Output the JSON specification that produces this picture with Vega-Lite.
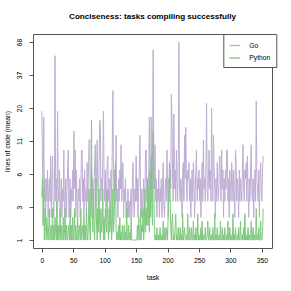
{
  "$schema": "https://vega.github.io/schema/vega-lite/v6.json",
  "width": 239,
  "height": 214,
  "autosize": {"type": "none"},
  "padding": {"left": 33, "top": 34, "right": 19, "bottom": 43},
  "background": "white",
  "title": {"text": "Conciseness: tasks compiling successfully", "fontSize": 8.1, "fontWeight": "bold", "font": "Liberation Sans", "anchor": "middle", "baseline": "bottom", "offset": 4.3, "color": "#000"},
  "data": {"values": [
{"t":0,"go":19,"py":3.3},{"t":1,"go":7,"py":5},{"t":2,"go":4,"py":1.6},{"t":3,"go":17,"py":4},{"t":4,"go":3,"py":1},{"t":5,"go":5,"py":2.5},{"t":6,"go":2,"py":1.6},{"t":7,"go":5,"py":1},{"t":8,"go":3,"py":2},{"t":9,"go":6,"py":1.3},
{"t":10,"go":2,"py":1},{"t":11,"go":4,"py":1.6},{"t":12,"go":5,"py":2.5},{"t":13,"go":3,"py":1},{"t":14,"go":8,"py":1.3},{"t":15,"go":2,"py":1.6},{"t":16,"go":5,"py":1},{"t":17,"go":8,"py":2.5},{"t":18,"go":3,"py":1},{"t":19,"go":2,"py":1.6},
{"t":20,"go":4,"py":1},{"t":21,"go":53,"py":2},{"t":22,"go":3,"py":1.3},{"t":23,"go":5,"py":1},{"t":24,"go":2,"py":3},{"t":25,"go":19,"py":1},{"t":26,"go":4,"py":1.6},{"t":27,"go":3,"py":1},{"t":28,"go":6,"py":1.3},{"t":29,"go":2,"py":2.5},
{"t":30,"go":3,"py":1},{"t":31,"go":5,"py":1.6},{"t":32,"go":2,"py":1},{"t":33,"go":4,"py":1},{"t":34,"go":3,"py":2},{"t":35,"go":9,"py":1},{"t":36,"go":2,"py":1.3},{"t":37,"go":3,"py":2.5},{"t":38,"go":5,"py":1},{"t":39,"go":2,"py":1.6},
{"t":40,"go":4,"py":1},{"t":41,"go":6,"py":1},{"t":42,"go":9,"py":1.6},{"t":43,"go":2,"py":1.3},{"t":44,"go":3,"py":1},{"t":45,"go":5,"py":2.5},{"t":46,"go":2,"py":1},{"t":47,"go":4,"py":1.6},{"t":48,"go":3,"py":1},{"t":49,"go":6,"py":2},
{"t":50,"go":3,"py":1},{"t":51,"go":13,"py":1.3},{"t":52,"go":4,"py":2.5},{"t":53,"go":9,"py":1},{"t":54,"go":2,"py":1.6},{"t":55,"go":6,"py":1},{"t":56,"go":3,"py":1},{"t":57,"go":2,"py":2},{"t":58,"go":4,"py":1},{"t":59,"go":3,"py":1.3},
{"t":60,"go":5,"py":1.6},{"t":61,"go":2,"py":1},{"t":62,"go":4,"py":2.5},{"t":63,"go":9,"py":1},{"t":64,"go":9,"py":1.3},{"t":65,"go":3,"py":1.6},{"t":66,"go":5,"py":1},{"t":67,"go":2,"py":2},{"t":68,"go":6,"py":1},{"t":69,"go":3,"py":1.6},
{"t":70,"go":4,"py":1},{"t":71,"go":2,"py":2.5},{"t":72,"go":7,"py":1.3},{"t":73,"go":3,"py":1},{"t":74,"go":5,"py":1.6},{"t":75,"go":11,"py":4},{"t":76,"go":11,"py":1.6},{"t":77,"go":4,"py":1},{"t":78,"go":2,"py":2.5},{"t":79,"go":6,"py":16},
{"t":80,"go":3,"py":2.5},{"t":81,"go":5,"py":1.3},{"t":82,"go":2,"py":4},{"t":83,"go":4,"py":1.6},{"t":84,"go":7,"py":1},{"t":85,"go":10,"py":2.5},{"t":86,"go":3,"py":5},{"t":87,"go":5,"py":1.6},{"t":88,"go":11,"py":1},{"t":89,"go":4,"py":2.5},
{"t":90,"go":2,"py":1.3},{"t":91,"go":6,"py":4},{"t":92,"go":16,"py":1.6},{"t":93,"go":15,"py":1},{"t":94,"go":3,"py":2.5},{"t":95,"go":5,"py":1.3},{"t":96,"go":4,"py":1.6},{"t":97,"go":8,"py":4},{"t":98,"go":19,"py":1},{"t":99,"go":5,"py":2},
{"t":100,"go":3,"py":1},{"t":101,"go":6,"py":2.5},{"t":102,"go":2,"py":1.6},{"t":103,"go":4,"py":1.3},{"t":104,"go":7,"py":4},{"t":105,"go":8,"py":1.6},{"t":106,"go":3,"py":1},{"t":107,"go":5,"py":2.5},{"t":108,"go":2,"py":1.3},{"t":109,"go":4,"py":1.6},
{"t":110,"go":6,"py":3},{"t":111,"go":3,"py":1},{"t":112,"go":9,"py":1.6},{"t":113,"go":28,"py":4},{"t":114,"go":5,"py":1.3},{"t":115,"go":3,"py":2},{"t":116,"go":6,"py":4},{"t":117,"go":4,"py":7},{"t":118,"go":12,"py":1.6},{"t":119,"go":3,"py":1},
{"t":120,"go":4,"py":1.3},{"t":121,"go":2,"py":1},{"t":122,"go":5,"py":1.6},{"t":123,"go":3,"py":1},{"t":124,"go":6,"py":2},{"t":125,"go":4,"py":1},{"t":126,"go":10,"py":1.3},{"t":127,"go":3,"py":1},{"t":128,"go":5,"py":1.6},{"t":129,"go":7,"py":1},
{"t":130,"go":2,"py":1},{"t":131,"go":4,"py":1.6},{"t":132,"go":3,"py":1},{"t":133,"go":5,"py":1.3},{"t":134,"go":2,"py":1},{"t":135,"go":3,"py":2.5},{"t":136,"go":2,"py":1},{"t":137,"go":4,"py":1},{"t":138,"go":2,"py":1.6},{"t":139,"go":3,"py":1},
{"t":140,"go":2,"py":1.3},{"t":141,"go":3,"py":1},{"t":142,"go":4,"py":2},{"t":143,"go":2,"py":1},{"t":144,"go":5,"py":1},{"t":145,"go":7,"py":1},{"t":146,"go":3,"py":1},{"t":147,"go":2,"py":1},{"t":148,"go":4,"py":1},{"t":149,"go":3,"py":1},
{"t":150,"go":8,"py":1},{"t":151,"go":3,"py":1},{"t":152,"go":5,"py":1.6},{"t":153,"go":2,"py":1},{"t":154,"go":4,"py":2},{"t":155,"go":6,"py":1.3},{"t":156,"go":12,"py":1},{"t":157,"go":3,"py":2.5},{"t":158,"go":2,"py":1},{"t":159,"go":4,"py":1.6},
{"t":160,"go":2,"py":1.3},{"t":161,"go":3,"py":2.5},{"t":162,"go":5,"py":1},{"t":163,"go":2,"py":1.6},{"t":164,"go":4,"py":4},{"t":165,"go":9,"py":1.3},{"t":166,"go":9,"py":2.5},{"t":167,"go":3,"py":1.6},{"t":168,"go":5,"py":5},{"t":169,"go":2,"py":1.6},
{"t":170,"go":6,"py":4},{"t":171,"go":17,"py":1.3},{"t":172,"go":4,"py":6},{"t":173,"go":5,"py":2},{"t":174,"go":17,"py":8},{"t":175,"go":3,"py":2.5},{"t":176,"go":6,"py":1.6},{"t":177,"go":59,"py":13},{"t":178,"go":8,"py":5},{"t":179,"go":4,"py":1.6},
{"t":180,"go":10,"py":1},{"t":181,"go":3,"py":1.2},{"t":182,"go":5,"py":1},{"t":183,"go":2,"py":1.5},{"t":184,"go":4,"py":1},{"t":185,"go":3,"py":1},{"t":186,"go":6,"py":1.2},{"t":187,"go":2,"py":1},{"t":188,"go":4,"py":1.5},{"t":189,"go":3,"py":1},
{"t":190,"go":5,"py":1},{"t":191,"go":2,"py":1.2},{"t":192,"go":4,"py":1},{"t":193,"go":7,"py":1.8},{"t":194,"go":3,"py":1},{"t":195,"go":2,"py":1},{"t":196,"go":4,"py":1.5},{"t":197,"go":5,"py":1},{"t":198,"go":3,"py":1.2},{"t":199,"go":9,"py":1.5},
{"t":200,"go":4,"py":1},{"t":201,"go":2,"py":2.2},{"t":202,"go":5,"py":3.5},{"t":203,"go":3,"py":7},{"t":204,"go":6,"py":3.5},{"t":205,"go":4,"py":1.5},{"t":206,"go":26,"py":1},{"t":207,"go":17,"py":1.8},{"t":208,"go":5,"py":2.2},{"t":209,"go":3,"py":1},
{"t":210,"go":18,"py":1.2},{"t":211,"go":4,"py":1},{"t":212,"go":6,"py":1.5},{"t":213,"go":3,"py":2.2},{"t":214,"go":9,"py":1},{"t":215,"go":5,"py":1.2},{"t":216,"go":3,"py":1},{"t":217,"go":8,"py":1.5},{"t":218,"go":68,"py":1},{"t":219,"go":4,"py":1},
{"t":220,"go":3,"py":1.5},{"t":221,"go":5,"py":1},{"t":222,"go":4,"py":1.2},{"t":223,"go":2,"py":1},{"t":224,"go":6,"py":2.2},{"t":225,"go":7,"py":1},{"t":226,"go":3,"py":1.2},{"t":227,"go":12,"py":1.5},{"t":228,"go":5,"py":1},{"t":229,"go":14,"py":1},
{"t":230,"go":4,"py":1.2},{"t":231,"go":3,"py":1},{"t":232,"go":6,"py":2.2},{"t":233,"go":5,"py":1.2},{"t":234,"go":7,"py":1},{"t":235,"go":3,"py":1.5},{"t":236,"go":5,"py":1},{"t":237,"go":2,"py":1},{"t":238,"go":4,"py":1.5},{"t":239,"go":6,"py":1},
{"t":240,"go":3,"py":1},{"t":241,"go":7,"py":1.8},{"t":242,"go":5,"py":1},{"t":243,"go":2,"py":1.2},{"t":244,"go":4,"py":1},{"t":245,"go":6,"py":1.5},{"t":246,"go":9,"py":1},{"t":247,"go":3,"py":1},{"t":248,"go":5,"py":2.2},{"t":249,"go":4,"py":1},
{"t":250,"go":6,"py":1.2},{"t":251,"go":3,"py":1},{"t":252,"go":5,"py":1},{"t":253,"go":2,"py":1.5},{"t":254,"go":4,"py":1},{"t":255,"go":7,"py":1.8},{"t":256,"go":3,"py":1},{"t":257,"go":11,"py":1.2},{"t":258,"go":4,"py":1},{"t":259,"go":5,"py":1},
{"t":260,"go":3,"py":1.5},{"t":261,"go":6,"py":1},{"t":262,"go":22,"py":1},{"t":263,"go":4,"py":1.2},{"t":264,"go":3,"py":1.8},{"t":265,"go":5,"py":1},{"t":266,"go":9,"py":1},{"t":267,"go":4,"py":1.5},{"t":268,"go":6,"py":1},{"t":269,"go":3,"py":1},
{"t":270,"go":20,"py":1.2},{"t":271,"go":5,"py":1},{"t":272,"go":3,"py":1.5},{"t":273,"go":12,"py":1},{"t":274,"go":6,"py":1},{"t":275,"go":4,"py":2.2},{"t":276,"go":2,"py":1},{"t":277,"go":5,"py":1.2},{"t":278,"go":3,"py":1},{"t":279,"go":7,"py":1.5},
{"t":280,"go":4,"py":1},{"t":281,"go":3,"py":1},{"t":282,"go":6,"py":1.2},{"t":283,"go":8,"py":1},{"t":284,"go":5,"py":1.8},{"t":285,"go":3,"py":1},{"t":286,"go":9,"py":1},{"t":287,"go":4,"py":1.5},{"t":288,"go":6,"py":1},{"t":289,"go":2,"py":1.2},
{"t":290,"go":5,"py":1},{"t":291,"go":3,"py":1.5},{"t":292,"go":6,"py":1},{"t":293,"go":4,"py":1},{"t":294,"go":9,"py":1.2},{"t":295,"go":9,"py":1},{"t":296,"go":3,"py":1.8},{"t":297,"go":5,"py":1},{"t":298,"go":2,"py":1},{"t":299,"go":6,"py":1.5},
{"t":300,"go":4,"py":1},{"t":301,"go":3,"py":1.2},{"t":302,"go":7,"py":1},{"t":303,"go":5,"py":1},{"t":304,"go":3,"py":2.2},{"t":305,"go":6,"py":1},{"t":306,"go":4,"py":1.2},{"t":307,"go":2,"py":1},{"t":308,"go":9,"py":1.5},{"t":309,"go":7,"py":1},
{"t":310,"go":3,"py":1},{"t":311,"go":5,"py":1.2},{"t":312,"go":4,"py":1},{"t":313,"go":2,"py":1.5},{"t":314,"go":6,"py":1},{"t":315,"go":3,"py":1},{"t":316,"go":5,"py":1.8},{"t":317,"go":4,"py":1},{"t":318,"go":3,"py":1},{"t":319,"go":6,"py":1.2},
{"t":320,"go":10,"py":1},{"t":321,"go":4,"py":1.5},{"t":322,"go":3,"py":1},{"t":323,"go":6,"py":2.2},{"t":324,"go":5,"py":1},{"t":325,"go":7,"py":1.2},{"t":326,"go":3,"py":1},{"t":327,"go":8,"py":1},{"t":328,"go":4,"py":1.5},{"t":329,"go":2,"py":1},
{"t":330,"go":5,"py":1.2},{"t":331,"go":3,"py":1},{"t":332,"go":6,"py":1},{"t":333,"go":10,"py":1.8},{"t":334,"go":4,"py":1},{"t":335,"go":3,"py":1},{"t":336,"go":5,"py":1.5},{"t":337,"go":2,"py":1},{"t":338,"go":4,"py":1.2},{"t":339,"go":6,"py":1},
{"t":340,"go":3,"py":1},{"t":341,"go":23,"py":2.5},{"t":342,"go":5,"py":1},{"t":343,"go":4,"py":1.2},{"t":344,"go":3,"py":1},{"t":345,"go":6,"py":1.5},{"t":346,"go":2,"py":1},{"t":347,"go":5,"py":1},{"t":348,"go":7,"py":1.8},{"t":349,"go":4,"py":1},
{"t":350,"go":3,"py":1},{"t":351,"go":6,"py":1.2},{"t":352,"go":8,"py":2.5}
  ]},
  "encoding": {
    "x": {"field": "t", "type": "quantitative",
      "scale": {"domain": [-14.08, 366.08], "nice": false, "zero": false},
      "axis": {"values": [0, 50, 100, 150, 200, 250, 300, 350], "tickCount": 20, "title": "task", "grid": false, "domain": false, "labelOverlap": false,
        "tickSize": 4, "tickColor": "#555", "labelPadding": 8.5, "labelBaseline": "middle", "labelFontSize": 6.75,
        "labelFont": "Liberation Sans", "labelColor": "#000", "titleFont": "Liberation Sans", "titleFontSize": 6.75,
        "titleFontWeight": "normal", "titleColor": "#000", "titleY": 29.7, "titleBaseline": "middle"}}
  },
  "layer": [
    {"mark": {"type": "line", "strokeWidth": 1, "clip": true},
     "encoding": {
       "y": {"field": "go", "type": "quantitative",
         "scale": {"type": "symlog", "constant": 1, "domain": [0.7358, 78.5], "nice": false, "zero": false},
         "axis": {"values": [1, 2.6085, 5.5111, 10.7475, 20.195, 37.243, 68], "tickCount": 20, "labelExpr": "format(datum.value, '.0f')", "title": "lines of code (mean)",
           "grid": false, "domain": false, "labelOverlap": false, "tickSize": 4, "tickColor": "#555", "labelAngle": -90, "labelAlign": "center",
           "labelBaseline": "middle", "labelPadding": 9.3, "labelFontSize": 6.75, "labelFont": "Liberation Sans", "labelColor": "#000",
           "titleFont": "Liberation Sans", "titleFontSize": 6.75, "titleFontWeight": "normal", "titleColor": "#000",
           "titleAngle": -90, "titleX": -26, "titleY": 107, "titleBaseline": "middle", "titleAlign": "center"}},
       "color": {"datum": "Go", "type": "nominal",
         "scale": {"domain": ["Go", "Python"], "range": ["#BEAED4", "#7FC97F"]},
         "legend": {"title": null, "orient": "none", "legendX": 190.3, "legendY": 0, "strokeColor": "#555", "fillColor": "white",
           "padding": 5, "symbolType": "stroke", "symbolSize": 121, "symbolStrokeWidth": 1.3, "labelFontSize": 6.75,
           "labelFont": "Liberation Sans", "labelColor": "#000", "labelOffset": 8, "rowPadding": 1.5}}
     }},
    {"mark": {"type": "line", "strokeWidth": 1, "clip": true},
     "encoding": {
       "y": {"field": "py", "type": "quantitative"},
       "color": {"datum": "Python", "type": "nominal"}
     }}
  ],
  "config": {"view": {"stroke": "#555", "strokeWidth": 1}}
}
